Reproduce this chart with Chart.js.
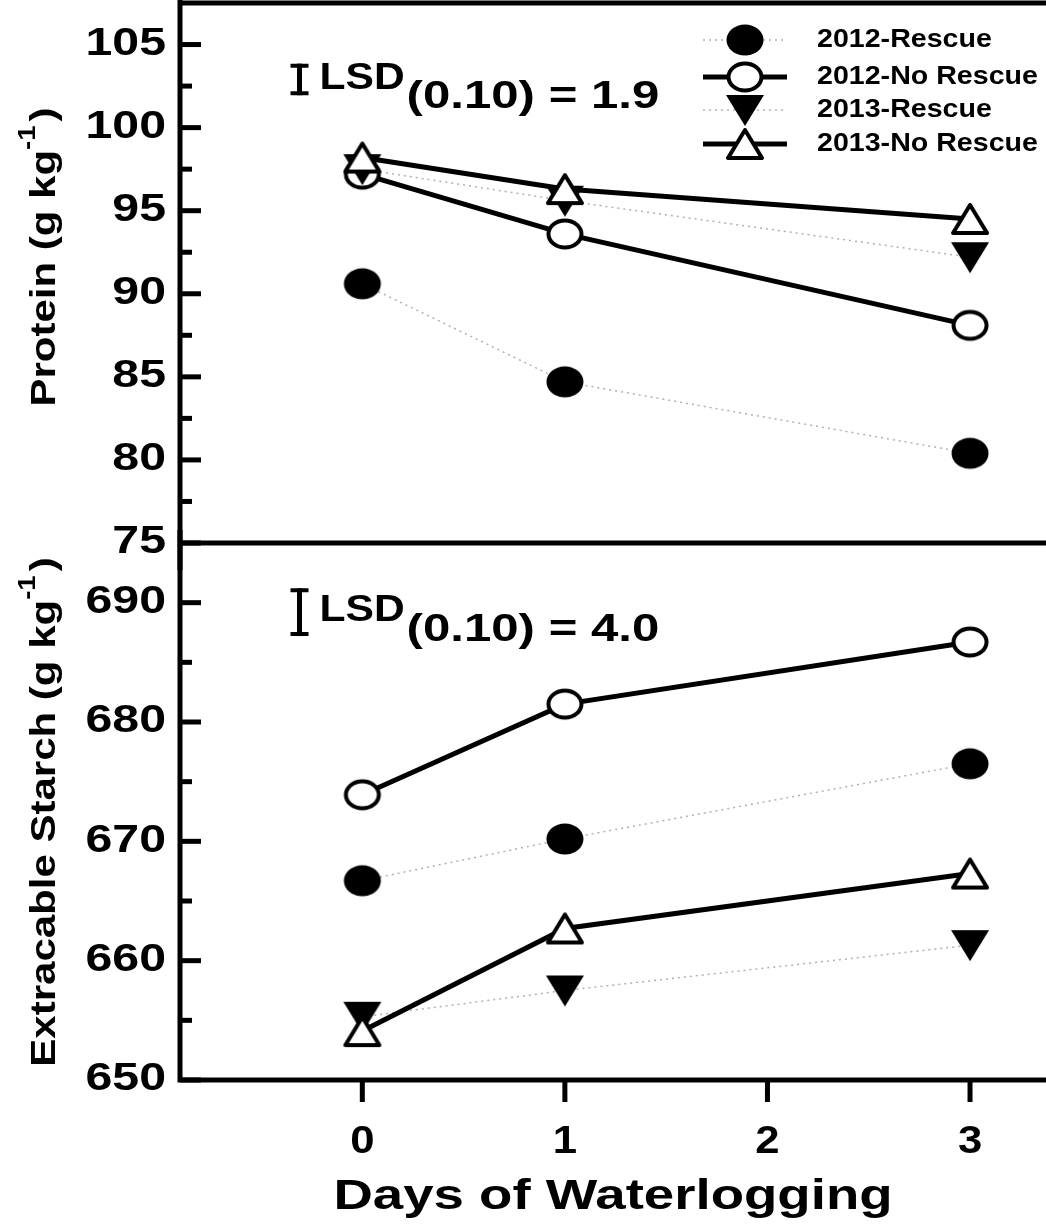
<!DOCTYPE html>
<html>
<head>
<meta charset="utf-8">
<script src="https://cdn.jsdelivr.net/npm/chart.js@4/dist/chart.umd.min.js"></script>
<style>
  html, body { margin: 0; padding: 0; background: #fff; }
  #wrap { position: relative; width: 1046px; height: 1226px; }
  canvas { position: absolute; left: 0; }
  #bottom { top: 530px; }
  #top { top: 0; }
</style>
</head>
<body>
<div id="wrap">
  <canvas id="bottom" width="1046" height="696"></canvas>
  <canvas id="top" width="1046" height="570"></canvas>
</div>
<script>
// data
const days = [0, 1, 3];
const dayTicks = [0, 1, 2, 3];
const seriesNames = ['2012-Rescue', '2012-No Rescue', '2013-Rescue', '2013-No Rescue'];

const protein2012Rescue = [90.6, 84.7, 80.4];
const protein2012NoRescue = [97.2, 93.6, 88.1];
const protein2013Rescue = [97.5, 95.6, 92.2];
const protein2013NoRescue = [98.2, 96.3, 94.5];
const proteinTicks = [75, 80, 85, 90, 95, 100, 105];
const proteinLSD = 1.9;

const starch2012Rescue = [666.7, 670.2, 676.5];
const starch2012NoRescue = [673.9, 681.5, 686.7];
const starch2013Rescue = [655.3, 657.5, 661.3];
const starch2013NoRescue = [654.1, 662.7, 667.3];
const starchTicks = [650, 660, 670, 680, 690];
const starchLSD = 4.0;

const FONT = '"Liberation Sans", Arial, sans-serif';

// markers are a little wider than tall in the original, so draw them as images
function marker(kind) {
  const c = document.createElement('canvas');
  c.width = 40; c.height = 34;
  const g = c.getContext('2d');
  g.lineWidth = 4;
  g.lineJoin = 'round';
  g.strokeStyle = '#000';
  g.fillStyle = '#000';
  g.beginPath();
  if (kind === 'dot') {
    g.ellipse(20, 17, 18.5, 15.5, 0, 0, 2 * Math.PI);
    g.fill();
  } else if (kind === 'ring') {
    g.ellipse(20, 17, 16.5, 13.5, 0, 0, 2 * Math.PI);
    g.fillStyle = '#fff'; g.fill(); g.stroke();
  } else if (kind === 'down') {
    g.moveTo(1, 2); g.lineTo(39, 2); g.lineTo(20, 33); g.closePath();
    g.fill();
  } else {
    g.moveTo(20, 3); g.lineTo(37, 31); g.lineTo(3, 31); g.closePath();
    g.fillStyle = '#fff'; g.fill(); g.stroke();
  }
  return c;
}

const looks = [
  { img: marker('dot'), solid: false },
  { img: marker('ring'), solid: true },
  { img: marker('down'), solid: false },
  { img: marker('up'), solid: true }
];

function makeSets(series) {
  return series.map((vals, i) => {
    const lk = looks[i];
    return {
      label: seriesNames[i],
      data: days.map((d, j) => ({ x: d, y: vals[j] })),
      showLine: true,
      borderColor: lk.solid ? '#000' : '#b0b0b0',
      borderWidth: lk.solid ? 5 : 1.5,
      borderDash: lk.solid ? [] : [2, 4],
      pointStyle: lk.img,
      pointRadius: 18,
      pointHoverRadius: 18,
      order: 4 - i,
      clip: false
    };
  });
}

// bold text, stretched sideways like the original figure
function wideText(ctx, txt, x, y, size, align, sx) {
  ctx.save();
  ctx.font = 'bold ' + size + 'px ' + FONT;
  ctx.textBaseline = 'middle';
  ctx.textAlign = 'left';
  const w = ctx.measureText(txt).width * sx;
  const x0 = align === 'right' ? x - w : align === 'center' ? x - w / 2 : x;
  ctx.translate(x0, y);
  ctx.scale(sx, 1);
  ctx.fillStyle = '#000';
  ctx.fillText(txt, 0, 0);
  ctx.restore();
  return w;
}

function yTitle(ctx, cx, cy, main) {
  const sx = 1.2;
  ctx.save();
  ctx.font = 'bold 35px ' + FONT;
  const w1 = ctx.measureText(main + ' (g kg').width * sx;
  ctx.font = 'bold 23px ' + FONT;
  const w2 = ctx.measureText('-1').width * sx;
  ctx.font = 'bold 35px ' + FONT;
  const w3 = ctx.measureText(')').width * sx;
  const total = w1 + w2 + w3 + 4;
  ctx.translate(cx, cy);
  ctx.rotate(-Math.PI / 2);
  let x = -total / 2;
  x += wideText(ctx, main + ' (g kg', x, 0, 35, 'left', sx);
  wideText(ctx, '-1', x, -16, 23, 'left', sx);
  x += w2 + 4;
  wideText(ctx, ')', x, 0, 35, 'left', sx);
  ctx.restore();
}

function yAxis(ctx, chart, ticks, minorStep) {
  const y = chart.scales.y, a = chart.chartArea;
  ctx.save();
  ctx.strokeStyle = '#000';
  ctx.lineWidth = 5;
  ticks.forEach(v => {
    const p = y.getPixelForValue(v);
    ctx.beginPath(); ctx.moveTo(a.left, p); ctx.lineTo(a.left + 21, p); ctx.stroke();
  });
  for (let v = ticks[0] + minorStep; v < y.max; v += 2 * minorStep) {
    const p = y.getPixelForValue(v);
    ctx.beginPath(); ctx.moveTo(a.left, p); ctx.lineTo(a.left + 12, p); ctx.stroke();
  }
  ctx.restore();
  ticks.forEach(v => wideText(ctx, String(v), a.left - 14, y.getPixelForValue(v), 38, 'right', 1.27));
}

function lsdMark(ctx, chart, yv, lsd, label) {
  const xs = chart.scales.x, ys = chart.scales.y;
  const x = xs.getPixelForValue(-0.31);
  const c = ys.getPixelForValue(yv);
  const h = Math.abs(ys.getPixelForValue(yv + lsd / 2) - ys.getPixelForValue(yv - lsd / 2));
  ctx.save();
  ctx.strokeStyle = '#000';
  ctx.lineWidth = 5;
  ctx.beginPath();
  ctx.moveTo(x, c - h / 2); ctx.lineTo(x, c + h / 2);
  ctx.stroke();
  ctx.lineWidth = 4;
  ctx.beginPath();
  ctx.moveTo(x - 9, c - h / 2 + 2); ctx.lineTo(x + 9, c - h / 2 + 2);
  ctx.moveTo(x - 9, c + h / 2 - 2); ctx.lineTo(x + 9, c + h / 2 - 2);
  ctx.stroke();
  ctx.restore();
  const w = wideText(ctx, 'LSD', x + 20, c - 1, 37, 'left', 1.15);
  wideText(ctx, label, x + 22 + w, c + 18, 39, 'left', 1.26);
}

const topFrame = {
  id: 'topFrame',
  beforeDatasetsDraw(chart) {
    const ctx = chart.ctx, a = chart.chartArea;
    ctx.save();
    ctx.strokeStyle = '#000';
    ctx.lineWidth = 5;
    ctx.beginPath();
    ctx.moveTo(a.left, 0); ctx.lineTo(a.left, chart.height);
    ctx.moveTo(a.left - 2.5, a.top); ctx.lineTo(chart.width, a.top);
    ctx.moveTo(a.left - 2.5, a.bottom); ctx.lineTo(chart.width, a.bottom);
    ctx.stroke();
    ctx.restore();
    yAxis(ctx, chart, proteinTicks, 2.5);
    yTitle(ctx, 45, 257, 'Protein');
    lsdMark(ctx, chart, 102.9, proteinLSD, '(0.10) = 1.9');
  },
  afterDraw(chart) {
    const ctx = chart.ctx;
    const rows = [40, 77, 110, 144];
    chart.data.datasets.forEach((ds, i) => {
      const lk = looks[i];
      const y = rows[i];
      ctx.save();
      ctx.strokeStyle = ds.borderColor;
      ctx.lineWidth = ds.borderWidth;
      ctx.setLineDash(ds.borderDash);
      ctx.beginPath(); ctx.moveTo(703, y); ctx.lineTo(787, y); ctx.stroke();
      ctx.setLineDash([]);
      Chart.helpers.drawPoint(ctx, { pointStyle: lk.img, rotation: 0, radius: 18, borderWidth: 0 }, 745, y);
      ctx.restore();
      wideText(ctx, ds.label, 817, y, 26, 'left', 1.1);
    });
  }
};

const bottomFrame = {
  id: 'bottomFrame',
  beforeDatasetsDraw(chart) {
    const ctx = chart.ctx, a = chart.chartArea, xs = chart.scales.x;
    ctx.save();
    ctx.strokeStyle = '#000';
    ctx.lineWidth = 5;
    ctx.beginPath();
    ctx.moveTo(a.left, 0); ctx.lineTo(a.left, a.bottom + 2.5);
    ctx.moveTo(a.left - 2.5, a.bottom); ctx.lineTo(chart.width, a.bottom);
    dayTicks.forEach(d => {
      const p = xs.getPixelForValue(d);
      ctx.moveTo(p, a.bottom); ctx.lineTo(p, a.bottom + 22);
    });
    ctx.stroke();
    ctx.restore();
    yAxis(ctx, chart, starchTicks, 5);
    dayTicks.forEach(d => wideText(ctx, String(d), xs.getPixelForValue(d), a.bottom + 63, 38, 'center', 1.15));
    wideText(ctx, 'Days of Waterlogging', (a.left + a.right) / 2, a.bottom + 117, 42, 'center', 1.3);
    yTitle(ctx, 45, 812 - 530, 'Extracable Starch');
    lsdMark(ctx, chart, 689.2, starchLSD, '(0.10) = 4.0');
  }
};

function opts(ymin, ymax, pad) {
  return {
    responsive: false,
    animation: false,
    devicePixelRatio: 1,
    layout: { padding: pad, autoPadding: false },
    plugins: { legend: { display: false }, tooltip: { enabled: false } },
    scales: {
      x: { type: 'linear', min: -0.9, max: 3.375, display: false },
      y: { type: 'linear', min: ymin, max: ymax, display: false }
    }
  };
}

new Chart(document.getElementById('top'), {
  type: 'scatter',
  data: { datasets: makeSets([protein2012Rescue, protein2012NoRescue, protein2013Rescue, protein2013NoRescue]) },
  options: opts(75, 107.5, { left: 180, right: 0, top: 3, bottom: 27 }),
  plugins: [topFrame]
});

new Chart(document.getElementById('bottom'), {
  type: 'scatter',
  data: { datasets: makeSets([starch2012Rescue, starch2012NoRescue, starch2013Rescue, starch2013NoRescue]) },
  options: opts(650, 695, { left: 180, right: 0, top: 13, bottom: 146 }),
  plugins: [bottomFrame]
});
</script>
</body>
</html>
